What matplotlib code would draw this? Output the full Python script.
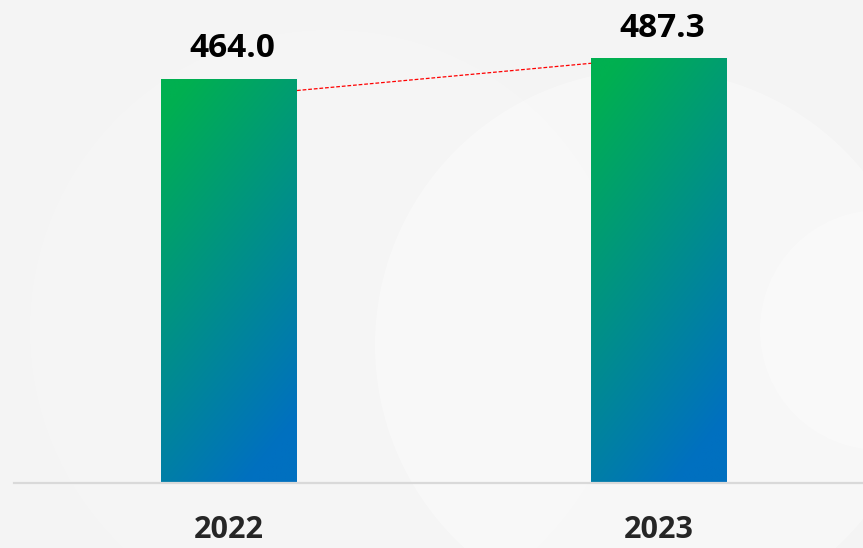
import numpy as np
import matplotlib
matplotlib.use("Agg")
import matplotlib.pyplot as plt
from matplotlib.patches import Circle

years = ["2022", "2023"]
values = [464.0, 487.3]
value_labels = ["464.0", "487.3"]

W, H = 863, 548
fig = plt.figure(figsize=(W / 100, H / 100), dpi=100)
fig.patch.set_facecolor("#F4F4F4")

# subtle background circles
bg = fig.add_axes([0, 0, 1, 1])
bg.set_xlim(0, W)
bg.set_ylim(H, 0)
bg.axis("off")
bg.add_patch(Circle((330, 330), 300, color="white", alpha=0.15, lw=0))
bg.add_patch(Circle((650, 345), 275, color="white", alpha=0.35, lw=0))
bg.add_patch(Circle((880, 330), 120, color="white", alpha=0.3, lw=0))

ax = fig.add_axes([14 / W, (H - 483) / H, 1 - 14 / W, 483 / H])
ax.set_facecolor("none")
x = np.arange(len(years))
bw = 0.316
bars = ax.bar(x, values, width=bw, color="none", edgecolor="none")

c0 = np.array([0, 176, 80]) / 255.0
c1 = np.array([0, 112, 192]) / 255.0
ny, nx = 200, 60
vv, uu = np.meshgrid(np.linspace(0, 1, ny), np.linspace(0, 1, nx), indexing="ij")
t = np.clip(0.85 * vv + 0.35 * uu - 0.07, 0, 1)
img = c0[None, None, :] * (1 - t[..., None]) + c1[None, None, :] * t[..., None]
for b in bars:
    x0 = b.get_x()
    ax.imshow(img, extent=[x0, x0 + b.get_width(), 0, b.get_height()],
              aspect="auto", interpolation="bilinear", zorder=2)
ax.set_xlim(-0.5, 1.474)
ax.set_ylim(0, 555)

for xi, v, lab in zip(x, values, value_labels):
    ax.annotate(lab, (xi, v), xytext=(2, 16), textcoords="offset points",
                ha="center", va="baseline", fontsize=24, fontweight="bold",
                family="Open Sans", color="black")

# dashed connector between bars
ax.plot([x[0] + bw / 2, x[1] - bw / 2], [values[0] - 13, values[1] - 5],
        color="red", lw=0.9, ls=(0, (3, 1.5)), zorder=3)

for s in ["top", "right", "left"]:
    ax.spines[s].set_visible(False)
ax.spines["bottom"].set_color("#D9D9D9")
ax.spines["bottom"].set_linewidth(1.6)
ax.set_yticks([])
ax.set_xticks(x)
ax.set_xticklabels(years, fontsize=22, fontweight="bold", family="Open Sans",
                   color="#262626")
ax.tick_params(axis="x", length=0, pad=23)

fig.savefig("out.png", dpi=100, facecolor=fig.get_facecolor())
